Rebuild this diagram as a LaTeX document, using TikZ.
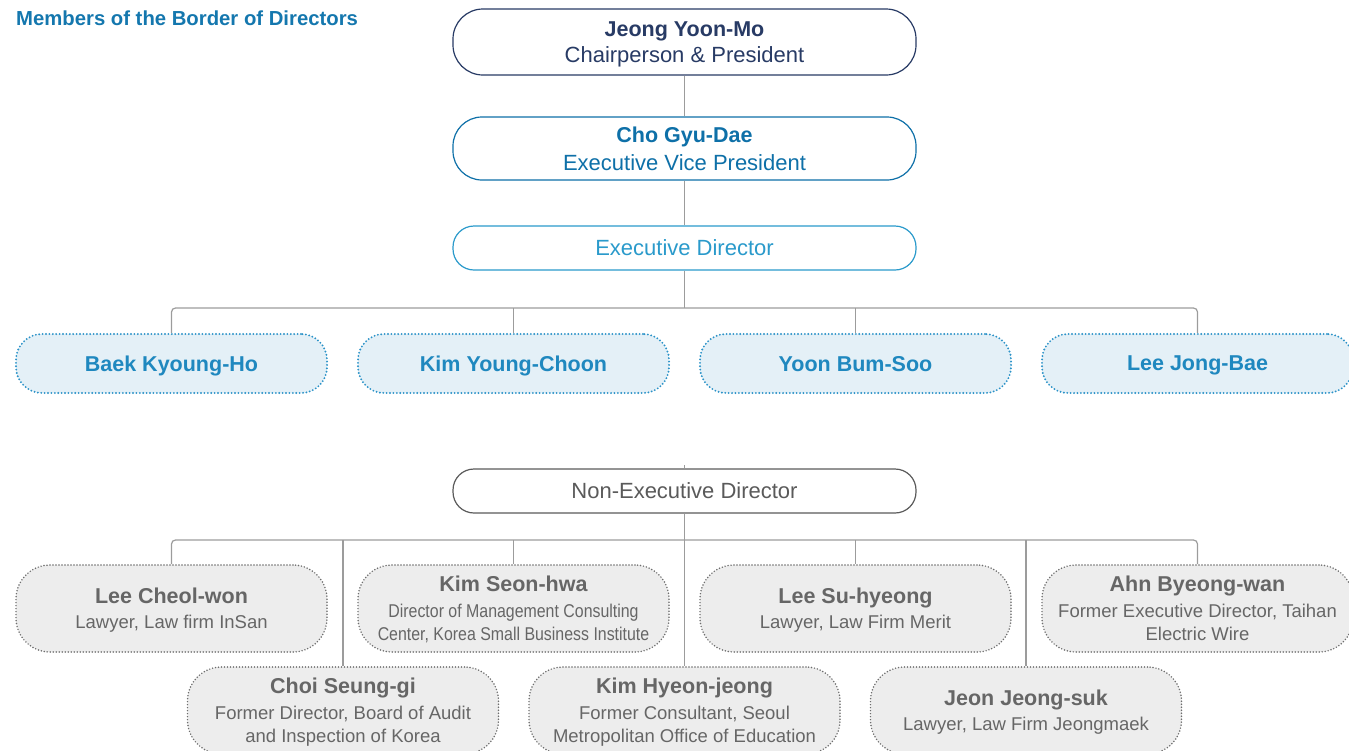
\documentclass[tikz,border=0pt]{standalone}
\usepackage{fontspec}
\setmainfont{Liberation Sans}
\newfontfamily\condfont[FakeStretch=0.86]{Liberation Sans}
\definecolor{navy}{HTML}{283B65}
\definecolor{midblue}{HTML}{0E70A8}
\definecolor{ltblue}{HTML}{2A9ACB}
\definecolor{titleblue}{HTML}{1477AE}
\definecolor{boxblue}{HTML}{E4F0F7}
\definecolor{dotblue}{HTML}{2C93C8}
\definecolor{nameblue}{HTML}{1F88BF}
\definecolor{boxgray}{HTML}{EDEDED}
\definecolor{dotgray}{HTML}{6E6E6E}
\definecolor{textgray}{HTML}{666666}
\definecolor{darkgray}{HTML}{5A5A5A}
\definecolor{linegray}{HTML}{9C9C9C}
\begin{document}
\begin{tikzpicture}[x=1pt,y=-1pt,
  conn/.style={draw=linegray, line width=1.2pt},
  widebox/.style={draw, line width=1.2pt, fill=white, align=center, inner sep=0pt,
    minimum width=463pt, text depth=0pt},
  bluedot/.style={fill=boxblue, draw=dotblue, line width=2.1pt, dash pattern=on 0pt off 3.4pt,
    line cap=round, rounded corners=26pt, minimum width=311pt, minimum height=59pt,
    inner sep=0pt, text depth=0pt, text=nameblue, font=\fontsize{21.5}{25}\selectfont\bfseries},
  graydot/.style={fill=boxgray, draw=dotgray, line width=1.7pt, dash pattern=on 0pt off 3pt,
    line cap=round, rounded corners=34pt, minimum width=311pt, minimum height=87pt,
    inner sep=0pt, text depth=0pt, align=center, text=textgray, font=\fontsize{18.5}{23}\selectfont}
]
\useasboundingbox (0,0) rectangle (1349,750);
\clip (0,0) rectangle (1349,750);

\node[anchor=west, inner sep=0pt, text=titleblue, font=\fontsize{20.3}{24}\selectfont\bfseries] (title) at (16,18) {Members of the Border of Directors};

% top chain
\node[widebox, draw=navy, text=navy, rounded corners=30pt, minimum height=66pt,
  font=\fontsize{22}{26}\selectfont] (jeong) at (684.5,42)
  {{\fontsize{21.5}{26}\selectfont\bfseries Jeong Yoon-Mo}\\Chairperson \& President};
\node[widebox, draw=midblue, text=midblue, rounded corners=29pt, minimum height=63pt,
  font=\fontsize{22}{28}\selectfont] (cho) at (684.5,148.5)
  {{\fontsize{21.5}{28}\selectfont\bfseries Cho Gyu-Dae}\\Executive Vice President};
\node[widebox, draw=ltblue, text=ltblue, rounded corners=21pt, minimum height=44pt,
  font=\fontsize{22}{26}\selectfont] (exec) at (684.5,248) {Executive Director};

% executive directors
\node[bluedot] (baek) at (171.5,363.5) {Baek Kyoung-Ho};
\node[bluedot] (kimyc) at (513.5,363.5) {Kim Young-Choon};
\node[bluedot] (yoon) at (855.5,363.5) {Yoon Bum-Soo};
\node[bluedot] (leejb) at (1197.5,363.5) {Lee Jong-Bae};

\coordinate (bar1) at (0,308);
\draw[conn] (jeong.south) -- (cho.north);
\draw[conn] (cho.south) -- (exec.north);
\draw[conn] (exec.south) -- (exec.south |- bar1);
\draw[conn, rounded corners=4pt] (baek.north) |- (bar1 -| leejb.north) -- (leejb.north);
\draw[conn] (kimyc.north) -- (kimyc.north |- bar1);
\draw[conn] (yoon.north) -- (yoon.north |- bar1);

% non-executive
\node[widebox, draw=darkgray, text=darkgray, rounded corners=21pt, minimum height=44pt,
  font=\fontsize{22}{26}\selectfont] (nexec) at (684.5,491) {Non-Executive Director};
\coordinate (stub) at (684.5,465);
\draw[conn] (stub) -- (nexec.north);

\node[graydot] (leecw) at (171.5,608.5)
  {{\fontsize{21.5}{25}\selectfont\bfseries Lee Cheol-won}\\[2pt]Lawyer, Law firm InSan};
\node[graydot] (kimsh) at (513.5,608.5)
  {{\fontsize{21.5}{25}\selectfont\bfseries Kim Seon-hwa}\\[3pt]{\condfont Director of Management Consulting}\\{\condfont Center, Korea Small Business Institute}};
\node[graydot] (leesh) at (855.5,608.5)
  {{\fontsize{21.5}{25}\selectfont\bfseries Lee Su-hyeong}\\[2pt]Lawyer, Law Firm Merit};
\node[graydot] (ahn) at (1197.5,608.5)
  {{\fontsize{21.5}{25}\selectfont\bfseries Ahn Byeong-wan}\\[3pt]Former Executive Director, Taihan\\Electric Wire};
\node[graydot] (choi) at (343,710.5)
  {{\fontsize{21.5}{25}\selectfont\bfseries Choi Seung-gi}\\[3pt]Former Director, Board of Audit\\and Inspection of Korea};
\node[graydot] (kimhj) at (684.5,710.5)
  {{\fontsize{21.5}{25}\selectfont\bfseries Kim Hyeon-jeong}\\[3pt]Former Consultant, Seoul\\Metropolitan Office of Education};
\node[graydot] (jeon) at (1026,710.5)
  {{\fontsize{21.5}{25}\selectfont\bfseries Jeon Jeong-suk}\\[2pt]Lawyer, Law Firm Jeongmaek};

\coordinate (bar2) at (0,540);
\draw[conn] (nexec.south) -- (kimhj.north);
\draw[conn, rounded corners=4pt] (leecw.north) |- (bar2 -| ahn.north) -- (ahn.north);
\draw[conn] (kimsh.north) -- (kimsh.north |- bar2);
\draw[conn] (leesh.north) -- (leesh.north |- bar2);
\draw[conn] (choi.north) -- (choi.north |- bar2);
\draw[conn] (jeon.north) -- (jeon.north |- bar2);
\end{tikzpicture}
\end{document}
